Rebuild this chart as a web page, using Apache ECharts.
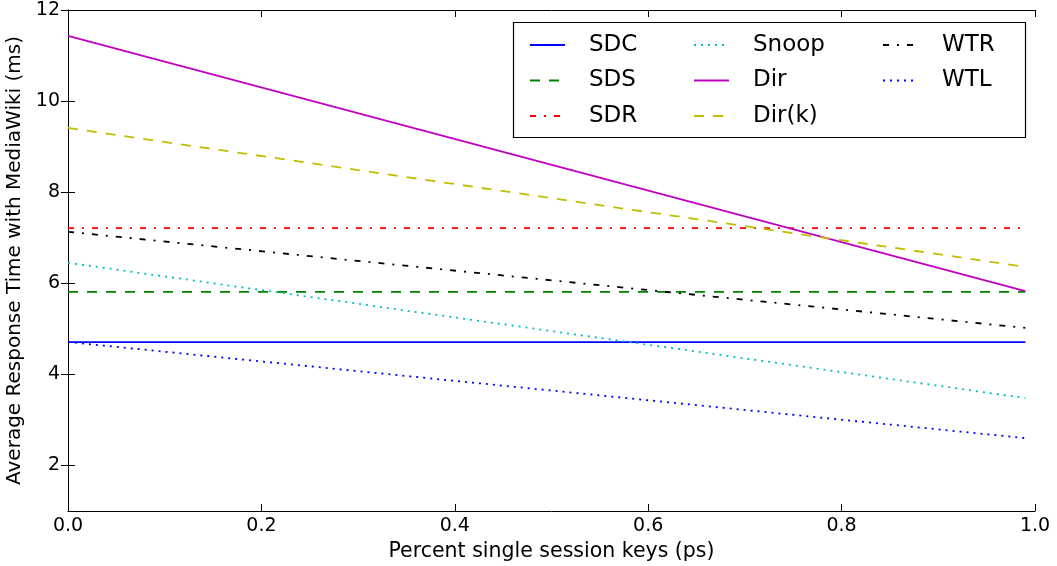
<!DOCTYPE html>
<html>
<head>
<meta charset="utf-8">
<script src="https://cdn.jsdelivr.net/npm/echarts@6/dist/echarts.min.js"></script>
<style>html,body{margin:0;padding:0;background:#fff}#c{width:1057px;height:566px}</style>
</head>
<body>
<div id="c"></div>
<script>
const seriesNames = ['SDC', 'SDS', 'SDR', 'Snoop', 'Dir', 'Dir(k)', 'WTR', 'WTL'];
const xValues = [0.0, 0.99];
const sdc   = [4.71, 4.71];
const sds   = [5.81, 5.81];
const sdr   = [7.21, 7.21];
const snoop = [6.45, 3.48];
const dir   = [11.43, 5.83];
const dirk  = [9.41, 6.36];
const wtr   = [7.13, 5.02];
const wtl   = [4.71, 2.60];
const yTicks = [2, 4, 6, 8, 10, 12];

const values = [sdc, sds, sdr, snoop, dir, dirk, wtr, wtl];
const styles = [
  {color: '#0000ff', type: 'solid'},
  {color: '#008000', type: [10, 9]},
  {color: '#ff0000', type: [6, 8, 2, 8]},
  {color: '#00bfbf', type: [2, 5]},
  {color: '#bf00bf', type: 'solid'},
  {color: '#bfbf00', type: [10, 9]},
  {color: '#000000', type: [6, 8, 2, 8]},
  {color: '#0000ff', type: [2, 5]}
];

const FONT = 'DejaVu Sans';
const chart = echarts.init(document.getElementById('c'), null, {renderer: 'canvas'});

const series = seriesNames.map((n, i) => ({
  name: n,
  type: 'line',
  xAxisIndex: 0,
  yAxisIndex: 0,
  symbol: 'none',
  animation: false,
  color: styles[i].color,
  lineStyle: {color: styles[i].color, width: 1.8, type: styles[i].type},
  data: xValues.map((x, j) => [x, values[i][j]])
}));

function legend(names, left) {
  return {
    data: names,
    orient: 'vertical',
    left: left,
    top: 32,
    padding: 0,
    itemWidth: 35,
    itemHeight: 14,
    itemGap: 9.5,
    itemStyle: {opacity: 0},
    textStyle: {fontFamily: FONT, fontSize: 23, color: '#000', lineHeight: 26, padding: [0, 0, 0, 19]}
  };
}

const axisCommon = {
  axisLine: {show: true, lineStyle: {color: '#000', width: 1}},
  splitLine: {show: false},
};

chart.setOption({
  animation: false,
  backgroundColor: '#fff',
  grid: {left: 68, right: 22, top: 10, bottom: 55, containLabel: false, outerBoundsMode: 'none'},
  legend: [
    legend(seriesNames.slice(0, 3), 529),
    legend(seriesNames.slice(3, 6), 693),
    legend(seriesNames.slice(6, 8), 882)
  ],
  graphic: [{
    type: 'rect', z: 100, silent: true,
    shape: {x: 513.5, y: 22.5, width: 512, height: 115},
    style: {fill: null, stroke: '#000', lineWidth: 1.2}
  }],
  xAxis: [
    Object.assign({}, axisCommon, {
      type: 'value', min: 0, max: 1, interval: 0.2, position: 'bottom',
      name: 'Percent single session keys (ps)', nameLocation: 'middle', nameGap: 29,
      nameTextStyle: {fontFamily: FONT, fontSize: 20.5, color: '#000'},
      axisTick: {show: true, inside: true, length: 7, lineStyle: {color: '#000'}},
      axisLabel: {fontFamily: FONT, fontSize: 19, color: '#000', margin: 6,
        formatter: v => v.toFixed(1)}
    }),
    Object.assign({}, axisCommon, {
      type: 'value', min: 0, max: 1, interval: 0.2, position: 'top',
      axisTick: {show: true, inside: true, length: 7, lineStyle: {color: '#000'}},
      axisLabel: {show: false}
    })
  ],
  yAxis: [
    Object.assign({}, axisCommon, {
      type: 'value', min: 1, max: 12, position: 'left',
      name: 'Average Response Time with MediaWiki (ms)', nameLocation: 'middle', nameGap: 38,
      nameTextStyle: {fontFamily: FONT, fontSize: 20, color: '#000'},
      axisTick: {show: true, inside: true, length: 7, lineStyle: {color: '#000'}, customValues: yTicks},
      axisLabel: {fontFamily: FONT, fontSize: 19, color: '#000', margin: 8, customValues: yTicks}
    }),
    Object.assign({}, axisCommon, {
      type: 'value', min: 1, max: 12, position: 'right',
      axisTick: {show: true, inside: true, length: 7, lineStyle: {color: '#000'}, customValues: yTicks},
      axisLabel: {show: false, customValues: yTicks}
    })
  ],
  series: series
});
</script>
</body>
</html>
